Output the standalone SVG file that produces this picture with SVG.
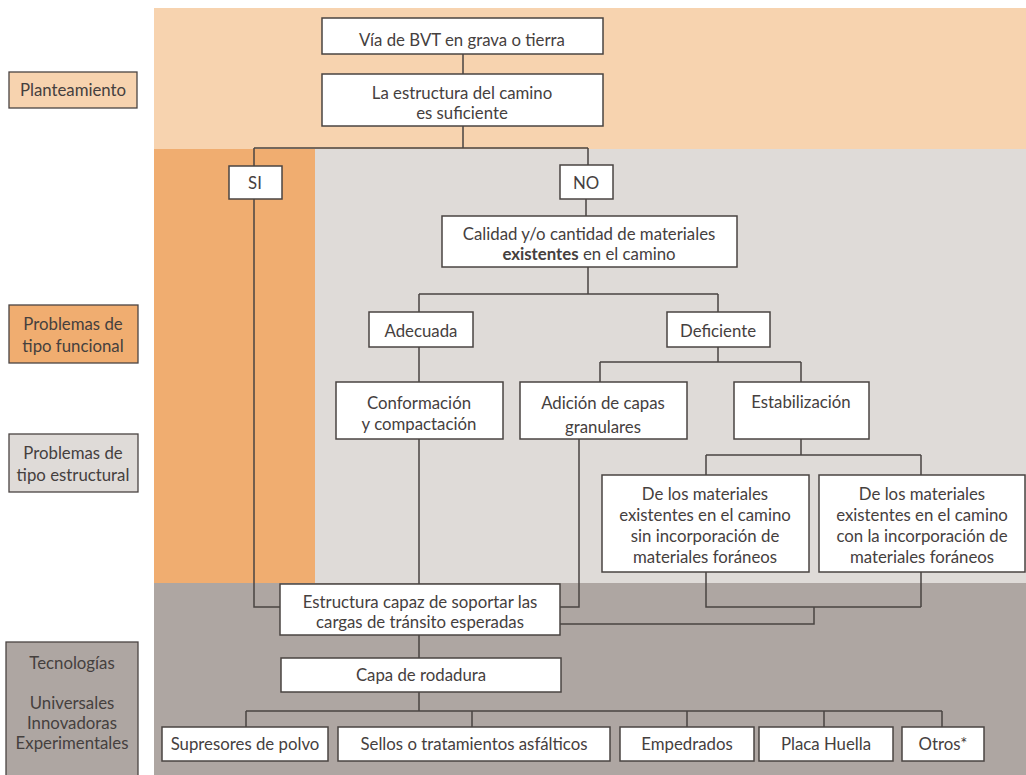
<svg xmlns="http://www.w3.org/2000/svg" width="1026" height="775" viewBox="0 0 1026 775">
<style>
.bx{fill:#fff;stroke:#4a4442;stroke-width:1.5}
.lg{stroke:#4a4442;stroke-width:1.3}
.t{font-family:Lato,"Liberation Sans",sans-serif;font-size:16.8px;fill:#45403e;text-anchor:middle}
.c{fill:none;stroke:#4a4442;stroke-width:1.5}
</style>
<rect width="1026" height="775" fill="#fff"/>
<g id="bands">
<rect x="154" y="8" width="872" height="141" fill="#f7d3af"/>
<rect x="154" y="149" width="161" height="434" fill="#f0ad70"/>
<rect x="315" y="149" width="711" height="434" fill="#dfdbd8"/>
<rect x="154" y="583" width="872" height="192" fill="#aea6a2"/>
</g>
<g id="legend-planteamiento"><rect class="lg" x="9" y="72" width="128" height="36" fill="#f7d3af"/><text class="t" x="73" y="96">Planteamiento</text></g>
<g id="legend-funcional"><rect class="lg" x="9" y="305" width="129" height="58" fill="#f0ad70"/><text class="t" x="73" y="330">Problemas de</text><text class="t" x="73" y="352">tipo funcional</text></g>
<g id="legend-estructural"><rect class="lg" x="9" y="434" width="129" height="58" fill="#dfdbd8"/><text class="t" x="73" y="459">Problemas de</text><text class="t" x="73" y="481">tipo estructural</text></g>
<g id="legend-tecnologias"><rect class="lg" x="6" y="642" width="132" height="140" fill="#aea6a2"/><text class="t" x="72" y="669">Tecnologías</text><text class="t" x="72" y="709">Universales</text><text class="t" x="72" y="729">Innovadoras</text><text class="t" x="72" y="749">Experimentales</text></g>
<g id="connectors">
<path class="c" d="M463 54V74M463 126V148M254 148H588M254 148V166M588 148V165M586 199V216M588 267V294M419 294H718M419 294V312M718 294V312M718 347V362M600 362H801M600 362V382M801 362V382M419 347V382M419 439V584M579 439V607H560M254 199V607H280M801 439V455M706 455H921M706 455V475M921 455V475M706 572V607H921M921 572V607M814 607V624H560M419 635V658M419 692V711M246 711H942M246 711V727M472 711V727M687 711V727M824 711V727M942 711V727"/>
</g>
<g id="n-via"><rect class="bx" x="322" y="18" width="281" height="36"/><text class="t" x="462" y="46">Vía de BVT en grava o tierra</text></g>
<g id="n-estructura"><rect class="bx" x="322" y="74" width="281" height="52"/><text class="t" x="462" y="99">La estructura del camino</text><text class="t" x="462" y="119">es suficiente</text></g>
<g id="n-si"><rect class="bx" x="229" y="166" width="53" height="33"/><text class="t" x="255" y="189">SI</text></g>
<g id="n-no"><rect class="bx" x="560" y="165" width="53" height="34"/><text class="t" x="586" y="189">NO</text></g>
<g id="n-calidad"><rect class="bx" x="442" y="216" width="295" height="51"/><text class="t" x="589" y="240">Calidad y/o cantidad de materiales</text><text class="t" x="589" y="260"><tspan font-weight="bold">existentes</tspan> en el camino</text></g>
<g id="n-adecuada"><rect class="bx" x="369" y="312" width="104" height="35"/><text class="t" x="421" y="337">Adecuada</text></g>
<g id="n-deficiente"><rect class="bx" x="667" y="312" width="103" height="35"/><text class="t" x="718" y="337">Deficiente</text></g>
<g id="n-conformacion"><rect class="bx" x="336" y="382" width="167" height="57"/><text class="t" x="419" y="409">Conformación</text><text class="t" x="419" y="430">y compactación</text></g>
<g id="n-adicion"><rect class="bx" x="520" y="382" width="167" height="57"/><text class="t" x="603" y="409">Adición de capas</text><text class="t" x="603" y="433">granulares</text></g>
<g id="n-estabilizacion"><rect class="bx" x="734" y="382" width="135" height="57"/><text class="t" x="801" y="408">Estabilización</text></g>
<g id="n-sin"><rect class="bx" x="602" y="475" width="207" height="97"/><text class="t" x="705" y="500">De los materiales</text><text class="t" x="705" y="521">existentes en el camino</text><text class="t" x="705" y="542">sin incorporación de</text><text class="t" x="705" y="563">materiales foráneos</text></g>
<g id="n-con"><rect class="bx" x="819" y="475" width="206" height="97"/><text class="t" x="922" y="500">De los materiales</text><text class="t" x="922" y="521">existentes en el camino</text><text class="t" x="922" y="542">con la incorporación de</text><text class="t" x="922" y="563">materiales foráneos</text></g>
<g id="n-capaz"><rect class="bx" x="280" y="584" width="280" height="51"/><text class="t" x="420" y="608">Estructura capaz de soportar las</text><text class="t" x="420" y="628">cargas de tránsito esperadas</text></g>
<g id="n-rodadura"><rect class="bx" x="281" y="658" width="280" height="34"/><text class="t" x="421" y="681">Capa de rodadura</text></g>
<g id="n-supresores"><rect class="bx" x="162" y="727" width="166" height="34"/><text class="t" x="245" y="750">Supresores de polvo</text></g>
<g id="n-sellos"><rect class="bx" x="338" y="727" width="272" height="34"/><text class="t" x="474" y="750">Sellos o tratamientos asfálticos</text></g>
<g id="n-empedrados"><rect class="bx" x="620" y="727" width="134" height="34"/><text class="t" x="687" y="750">Empedrados</text></g>
<g id="n-placa"><rect class="bx" x="759" y="727" width="134" height="34"/><text class="t" x="826" y="750">Placa Huella</text></g>
<g id="n-otros"><rect class="bx" x="902" y="727" width="82" height="34"/><text class="t" x="943" y="750">Otros*</text></g>
</svg>
